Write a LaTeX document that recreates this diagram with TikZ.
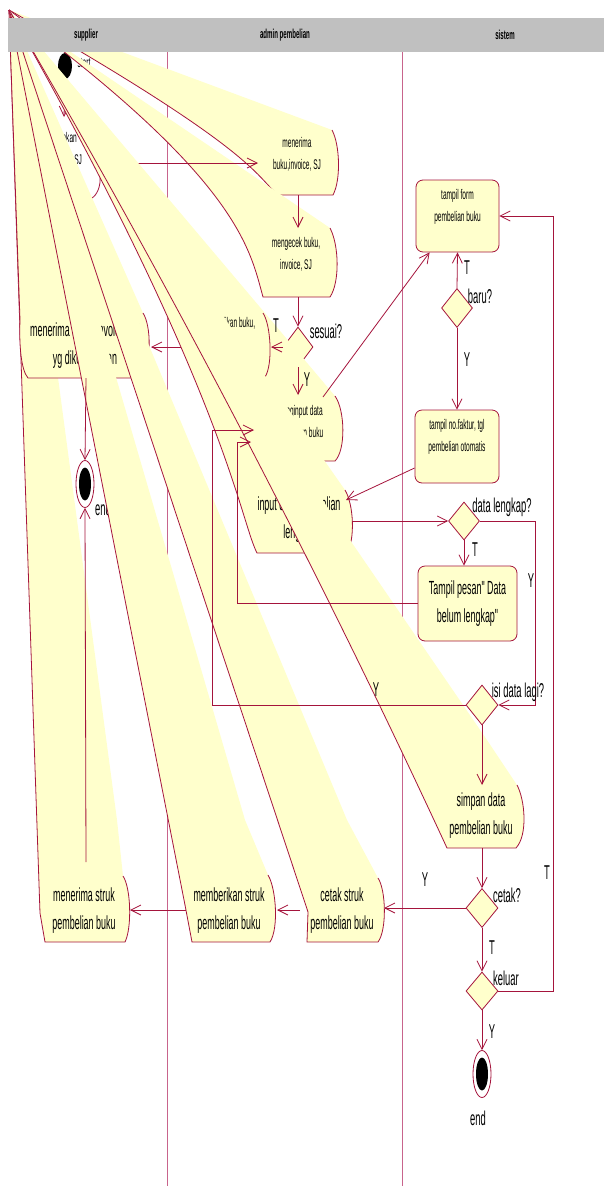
\documentclass[tikz,border=0pt]{standalone}
\usepackage{fontspec}
\setmainfont{Liberation Sans}
\newfontfamily\nf[FakeStretch=0.47]{Liberation Sans}
\usetikzlibrary{arrows.meta,shapes.geometric}
\definecolor{rc}{RGB}{165,20,60}
\definecolor{lanec}{RGB}{200,100,140}
\definecolor{yl}{RGB}{255,255,204}
\definecolor{hdr}{RGB}{192,192,192}
\tikzset{
 bigt/.style={font=\nf\fontsize{19}{28}\selectfont, align=center, inner sep=0pt},
 smallt/.style={font=\nf\fontsize{14}{22}\selectfont, align=center, inner sep=0pt},
 lbl/.style={font=\nf\fontsize{20}{22}\selectfont, inner sep=0pt},
 hdrt/.style={font=\nf\bfseries\fontsize{13}{15}\selectfont, inner sep=0pt},
 conn/.style={draw=rc, line width=0.8pt},
 arr/.style={conn, -{Straight Barb[length=10pt,width=10pt,line width=0.8pt]}},
 bandline/.style={draw=rc, line width=0.8pt},
 dec/.style={diamond, draw=rc, fill=yl, line width=0.8pt, inner sep=0pt},
 sysbox/.style={draw=rc, fill=yl, rounded corners=7pt, line width=0.8pt, font=\nf\fontsize{14}{22}\selectfont, align=center, inner sep=0pt},
 endn/.style={ellipse, draw=rc, fill=white, line width=0.8pt, minimum width=18pt, minimum height=47pt, inner sep=0pt},
 endin/.style={ellipse, fill=black, minimum width=12pt, minimum height=33pt, inner sep=0pt},
}
\begin{document}
\begin{tikzpicture}[x=1pt,y=-1pt]
\fill[white] (0,0) rectangle (604,1186);
\useasboundingbox (0,0) rectangle (604,1186);
% swimlane dividers
\draw[lanec, line width=0.7pt] (167,52) -- (167,1186);
\draw[lanec, line width=0.7pt] (402,52) -- (402,1186);
% named connection points
\coordinate (C) at (9,10);
\coordinate (kTop) at (64,117);
\coordinate (kR) at (101,163);
\coordinate (aL) at (258,163);
\coordinate (aB) at (298,195);
\coordinate (bT) at (298,228);
\coordinate (bB) at (298,297);
\coordinate (cL) at (205,347);
\coordinate (cR) at (271,347);
\coordinate (dR) at (151,347);
\coordinate (dB) at (86,378);
\coordinate (eT) at (298,395);
\coordinate (eTR) at (323,397);
\coordinate (eIn1) at (254,430);
\coordinate (eIn2) at (251,442);
\coordinate (lp1) at (212,430);
\coordinate (lp2) at (237,442);
\coordinate (fR) at (352,521);
\coordinate (fIn) at (346,500);
\coordinate (jT) at (482,785);
\coordinate (jB) at (482,848);
\coordinate (gR) at (384,908);
\coordinate (gL) at (300,910);
\coordinate (hR) at (277,910);
\coordinate (hL) at (186,910);
\coordinate (iR) at (130,910);
\coordinate (iT) at (86,862);

% ---- k (mostly hidden) and start
\node[smallt] (ktext) at (58,149) {mengirimkan\\buku,invoice, SJ};
\draw[bandline] (100,176) .. controls (101,186) and (97,195) .. (92,198) -- (80,198);
\node[ellipse, fill=black, minimum width=14pt, minimum height=26pt, inner sep=0pt] (start) at (65,66) {};
\node[smallt] (startl) at (84,63) {start};
\draw[arr] (start.south) -- (kTop);

% ---- a
\fill[yl] (C) -- (332,130) .. controls (340,145) and (341,180) .. (333,195) -- (278,195) .. controls (255,175) and (255,150) .. (C) -- cycle;
\draw[bandline] (332,130) .. controls (340,145) and (341,180) .. (333,195) -- (278,195) .. controls (255,175) and (255,150) .. (C);
\node[smallt] (atext) at (297,154) {menerima\\buku,invoice, SJ};
% ---- b
\fill[yl] (C) -- (330,228) .. controls (339,245) and (340,282) .. (330,297) -- (263,297) .. controls (250,250) and (240,180) .. (C) -- cycle;
\draw[bandline] (330,228) .. controls (339,245) and (340,282) .. (330,297) -- (263,297) .. controls (250,250) and (240,180) .. (C);
\node[smallt] (btext) at (296,254) {mengecek buku,\\invoice, SJ};

\draw[arr] (kR) -- (aL);
\draw[arr] (aB) -- (bT);
\node[dec, minimum width=30pt, minimum height=40pt] (ses) at (298,347) {};
\draw[arr] (bB) -- (ses.north);
\node[lbl] (lses) at (326,331) {sesuai?};

% ---- i
\fill[yl] (C) -- (117,820) -- (123,876) .. controls (131,888) and (132,928) .. (125,942) -- (45,942) -- (40,913) -- cycle;
\draw[bandline] (123,876) .. controls (131,888) and (132,928) .. (125,942) -- (45,942) -- (40,913) -- (C);
\node[bigt] (itext) at (84,911) {menerima struk\\pembelian buku};

% ---- d
\fill[yl] (C) -- (143,313) .. controls (151,325) and (153,365) .. (138,378) -- (28,378) .. controls (21,370) and (19,345) .. (20,320) -- cycle;
\draw[bandline] (143,313) .. controls (151,325) and (153,365) .. (138,378) -- (28,378) .. controls (21,370) and (19,345) .. (20,320) -- (C);
\node[bigt] (dtext) at (85,346) {menerima buku, invoice, SJ\\yg dikembalikan};
\node[lbl] (lend1) at (103,508) {end};

% ---- e
\fill[yl] (C) -- (335,396) .. controls (345,410) and (346,450) .. (335,461) -- (262,461) .. controls (245,430) and (235,360) .. (C) -- cycle;
\draw[bandline] (335,396) .. controls (345,410) and (346,450) .. (335,461) -- (262,461) .. controls (245,430) and (235,360) .. (C);
\node[smallt] (etext) at (300,423) {menginput data\\pembelian buku};

% ---- c
\fill[yl] (C) -- (263,313) .. controls (271,325) and (273,365) .. (265,377) -- (200,377) .. controls (185,350) and (175,290) .. (C) -- cycle;
\draw[bandline] (263,313) .. controls (271,325) and (273,365) .. (265,377) -- (200,377) .. controls (185,350) and (175,290) .. (C);
\node[smallt] (ctext) at (223,334) {mengembalikan buku,\\invoice, SJ};
\draw[arr] (cL) -- (dR);
\draw[arr] (ses.west) -- (cR);
\node[lbl] (lT1) at (276,326) {T};
\draw[arr] (ses.south) -- (eT);
\node[lbl] (lY1) at (307,380) {Y};

% ---- f
\fill[yl] (C) -- (345,490) .. controls (354,505) and (355,540) .. (347,553) -- (257,553) .. controls (240,520) and (225,390) .. (C) -- cycle;
\draw[bandline] (345,490) .. controls (354,505) and (355,540) .. (347,553) -- (257,553) .. controls (240,520) and (225,390) .. (C);
\node[bigt] (ftext) at (299,520) {input data pembelian\\lengkap};

% ---- j
\fill[yl] (C) -- (326,505) -- (487,740) -- (517,785) .. controls (525,800) and (528,835) .. (516,848) -- (447,848) .. controls (316,565) and (170,285) .. (C) -- cycle;
\draw[bandline] (517,785) .. controls (525,800) and (528,835) .. (516,848) -- (447,848) .. controls (316,565) and (170,285) .. (C);
\node[bigt] (jtext) at (481,816) {simpan data\\pembelian buku};
\node[lbl] (lY4) at (376,690) {Y};

% ---- h
\fill[yl] (C) -- (245,820) -- (268,875) .. controls (276,888) and (279,928) .. (270,942) -- (192,942) -- (185,905) -- cycle;
\draw[bandline] (268,875) .. controls (276,888) and (279,928) .. (270,942) -- (192,942) -- (185,905) -- (C);
\node[bigt] (htext) at (229,911) {memberikan struk\\pembelian buku};
% ---- g
\fill[yl] (C) -- (347,820) -- (378,878) .. controls (386,890) and (387,930) .. (378,942) -- (307,942) -- (308,912) -- cycle;
\draw[bandline] (378,878) .. controls (386,890) and (387,930) .. (378,942) -- (307,942) -- (308,912) -- (C);
\node[bigt] (gtext) at (342,911) {cetak struk\\pembelian buku};

% ---- header
\fill[hdr] (8,18) rectangle (604,52);
\node[hdrt] (h1) at (86,35) {supplier};
\node[hdrt] (h2) at (285,35) {admin pembelian};
\node[hdrt] (h3) at (505,35) {sistem};

% ---- sistem lane
\node[sysbox, minimum width=83pt, minimum height=72pt] (tf) at (457.5,216) {tampil form\\pembelian buku\\\mbox{}};
\node[sysbox, minimum width=84pt, minimum height=73pt] (tn) at (457,446.5) {tampil no.faktur, tgl\\pembelian otomatis\\\mbox{}};
\node[sysbox, font=\nf\fontsize{19}{28}\selectfont, minimum width=99pt, minimum height=75pt] (tp) at (467.5,603.5) {Tampil pesan" Data\\belum lengkap"};
\node[dec, minimum width=31pt, minimum height=39pt] (bd) at (457,308) {};
\node[dec, minimum width=31pt, minimum height=38pt] (dl) at (464,521) {};
\node[dec, minimum width=32pt, minimum height=40pt] (il) at (482,705) {};
\node[dec, minimum width=32pt, minimum height=39pt] (ce) at (482,908) {};
\node[dec, minimum width=32pt, minimum height=38pt] (ke) at (482,991) {};
\node[endn] (end1) at (85,484) {};
\node[endin] (end1i) at (85,484) {};
\node[endn] (end2) at (482,1074) {};
\node[endin] (end2i) at (482,1074) {};

% ---- connectors
\draw[arr] (eTR) -- ([xshift=14pt]tf.south west);
\draw[arr] (bd.north) -- (tf.south);
\draw[arr] (bd.south) -- (tn.north);
\draw[arr] ([yshift=-21.5pt]tn.west) -- (fIn);
\draw[arr] (fR) -- (dl.west);
\draw[arr] (dl.south) -- (dl.south |- tp.north);
\draw[arr] (dl.east) -- ++(55pt,0) |- (il.east);
\draw[arr] (tp.west) -| (lp2) -- (eIn2);
\draw[arr] (il.west) -| (lp1) -- (eIn1);
\draw[arr] (il.south) -- (jT);
\draw[arr] (jB) -- (ce.north);
\draw[arr] (ce.west) -- (gR);
\draw[arr] (gL) -- (hR);
\draw[arr] (hL) -- (iR);
\draw[arr] (iT) -- (end1.south);
\draw[arr] (dB) -- (end1.north);
\draw[arr] (ce.south) -- (ke.north);
\draw[arr] (ke.east) -- ++(55pt,0) |- (tf.east);
\draw[arr] (ke.south) -- (end2.north);

% ---- labels
\node[lbl] (l1) at (480,296) {baru?};
\node[lbl] (l2) at (467,268) {T};
\node[lbl] (l3) at (467,360) {Y};
\node[lbl] (l4) at (502,507) {data lengkap?};
\node[lbl] (l5) at (475,550) {T};
\node[lbl] (l6) at (531,581) {Y};
\node[lbl] (l7) at (518,692) {isi data lagi?};
\node[lbl] (l8) at (507,895) {cetak?};
\node[lbl] (l9) at (425,880) {Y};
\node[lbl] (l10) at (547,873) {T};
\node[lbl] (l11) at (492,948) {T};
\node[lbl] (l12) at (506,978) {keluar};
\node[lbl] (l13) at (492,1032) {Y};
\node[lbl] (l14) at (478,1118) {end};
\end{tikzpicture}
\end{document}
